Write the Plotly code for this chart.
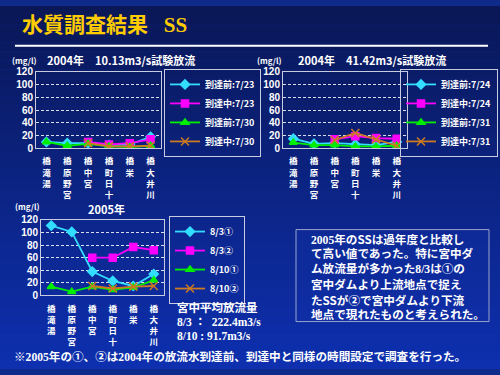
import plotly.graph_objects as go

# ---------------- data ----------------
categories = ["橋<br>滝<br>湯", "橋<br>原<br>野<br>宮", "橋<br>中<br>宮",
              "橋<br>町<br>日<br>十", "橋<br>栄", "橋<br>大<br>井<br>川"]
y_ticks = [0, 20, 40, 60, 80, 100, 120]

names_1 = ["到達前:7/23", "到達中:7/23", "到達前:7/30", "到達中:7/30"]
c1_before_723 = [10, 8, 8, 5, 6, 18]
c1_during_723 = [None, None, 10, 6, 8, 14]
c1_before_730 = [10, 4, 7, 3, 2, 4]
c1_during_730 = [None, None, 8, 3, 3, 4]

names_2 = ["到達前:7/24", "到達中:7/24", "到達前:7/31", "到達中:7/31"]
c2_before_724 = [15, 7, 8, 6, 5, 10]
c2_during_724 = [None, None, 14, 19, 16, 15]
c2_before_731 = [9, 5, 5, 3, 3, 4]
c2_during_731 = [None, None, 13, 24, 14, 4]

names_3 = ["8/3①", "8/3②", "8/10①", "8/10②"]
c3_0803_1 = [111, 101, 38, 23, 15, 34]
c3_0803_2 = [None, None, 60, 60, 77, 72]
c3_0810_1 = [14, 6, 14, 9, 13, 24]
c3_0810_2 = [None, None, 15, 11, 14, 15]

# ---------------- styles ----------------
W, H = 500, 375
def px(x): return x / W
def py(y): return 1 - y / H

colors = ["#33ddff", "#ff00ff", "#00ee00", "#cc7a22"]
symbols = ["diamond", "square", "triangle-up", "x-thin-open"]
msize = [7, 7, 7, 8]

JP = "Noto Sans CJK JP"
SERIF = "Liberation Serif, Noto Sans CJK JP"

fig = go.Figure()

def add_series(names, series, xa, ya, legend):
    for i, (nm, vals) in enumerate(zip(names, series)):
        fig.add_trace(go.Scatter(
            x=categories, y=vals, name=nm, mode="lines+markers",
            xaxis=xa, yaxis=ya, legend=legend, connectgaps=False,
            line=dict(color=colors[i], width=1.8),
            marker=dict(color=colors[i], symbol=symbols[i], size=msize[i],
                        line=dict(color=colors[i], width=1.5)),
        ))

add_series(names_1, [c1_before_723, c1_during_723, c1_before_730, c1_during_730], "x", "y", "legend")
add_series(names_2, [c2_before_724, c2_during_724, c2_before_731, c2_during_731], "x2", "y2", "legend2")
add_series(names_3, [c3_0803_1, c3_0803_2, c3_0810_1, c3_0810_2], "x3", "y3", "legend3")

def xaxis(dom, anchor):
    return dict(domain=dom, anchor=anchor, type="category", range=[-0.5, 5.5],
                showline=True, mirror=True, linecolor="#c8cce0", linewidth=1,
                showgrid=False, ticks="", tickangle=0,
                tickfont=dict(color="white", size=8.5, family=JP, weight="bold"),
                ticklabelstandoff=5)

def yaxis(dom, anchor):
    return dict(domain=dom, anchor=anchor, range=[0, 120], tickvals=y_ticks,
                showline=True, mirror=True, linecolor="#c8cce0", linewidth=1,
                showgrid=True, gridcolor="rgba(255,255,255,0.85)", gridwidth=1,
                griddash="3px,2px", zeroline=False, ticks="",
                tickfont=dict(color="white", size=10, family="Liberation Sans", weight="bold"))

# background gradient bands
shapes = []
n = 40
for k in range(n):
    t = k / (n - 1)
    r = int(10 + (14 - 10) * t)
    g = int(24 + (48 - 24) * t)
    b = int(88 + (175 - 88) * t)
    shapes.append(dict(type="rect", xref="paper", yref="paper", layer="below",
                       x0=0, x1=1, y0=1 - (k + 1) / n, y1=1 - k / n,
                       line=dict(width=0), fillcolor=f"rgb({r},{g},{b})"))
# title underline
shapes.append(dict(type="line", xref="paper", yref="paper", x0=px(15), x1=px(488),
                   y0=py(41), y1=py(41), line=dict(color="white", width=2)))
# text box
shapes.append(dict(type="rect", xref="paper", yref="paper", x0=px(296), x1=px(489),
                   y0=py(326), y1=py(231), line=dict(color="#9aa4cc", width=1),
                   fillcolor="rgba(20,50,170,0.35)"))

ann = []
def text(x, y, s, size, color="white", family=JP, bold=True, xanchor="left"):
    ann.append(dict(xref="paper", yref="paper", x=px(x), y=py(y), text=s,
                    showarrow=False, xanchor=xanchor, yanchor="middle",
                    font=dict(size=size, color=color, family=family,
                              weight="bold" if bold else "normal")))

text(20, 20, "水質調査結果&nbsp;&nbsp;&nbsp;SS", 21, color="#ffcc00", family=SERIF)
text(10, 56, "(mg/l)", 8)
text(45, 56, "2004年　10.13m3/s試験放流", 11)
text(255, 56, "(mg/l)", 8)
text(296, 56, "2004年　41.42m3/s試験放流", 11)
text(13, 207, "(mg/l)", 8)
text(86, 210, "2005年", 11)
text(175, 311, "宮中平均放流量", 11.5)
text(175, 326, "8/3 ：&nbsp;&nbsp;222.4m3/s", 11.5, family=SERIF)
text(175, 341, "8/10 : 91.7m3/s", 11.5, family=SERIF)

SS = "<span style='font-family:Noto Sans CJK JP'>SS</span>"
box_lines = ["2005年の" + SS + "は過年度と比較し",
             "て高い値であった。特に宮中ダ",
             "ム放流量が多かった8/3は①の",
             "宮中ダムより上流地点で捉え",
             "た" + SS + "が②で宮中ダムより下流",
             "地点で現れたものと考えられた。"]
for i, ln in enumerate(box_lines):
    text(309, 241 + i * 15.6, ln, 11.6, family=SERIF)

text(12, 363, "※2005年の①、②は2004年の放流水到達前、到達中と同様の時間設定で調査を行った。",
     11.6, family=SERIF)

def legend(x, y, xanchor="left"):
    return dict(x=px(x), y=py(y), xanchor=xanchor, yanchor="top",
                bgcolor="rgba(0,0,0,0)", bordercolor="#c8cce0", borderwidth=1,
                font=dict(color="white", size=9, family=JP, weight="bold"),
                itemwidth=30, tracegroupgap=0)

fig.update_layout(
    width=W, height=H, margin=dict(l=0, r=0, t=0, b=0),
    paper_bgcolor="#0e2a8a", plot_bgcolor="rgba(0,0,0,0)",
    xaxis=xaxis([px(36), px(161)], "y"),
    yaxis=yaxis([py(147), py(68)], "x"),
    xaxis2=xaxis([px(283), px(407)], "y2"),
    yaxis2=yaxis([py(147), py(68)], "x2"),
    xaxis3=xaxis([px(41), px(164)], "y3"),
    yaxis3=yaxis([py(299), py(221)], "x3"),
    legend=legend(164, 65),
    legend2=legend(498, 65, "right"),
    legend3=legend(169, 217),
    shapes=shapes, annotations=ann, showlegend=True,
)

fig.write_html("out.html", config={"displayModeBar": False},
               post_script="document.body.style.margin='0';document.body.style.overflow='hidden';")
